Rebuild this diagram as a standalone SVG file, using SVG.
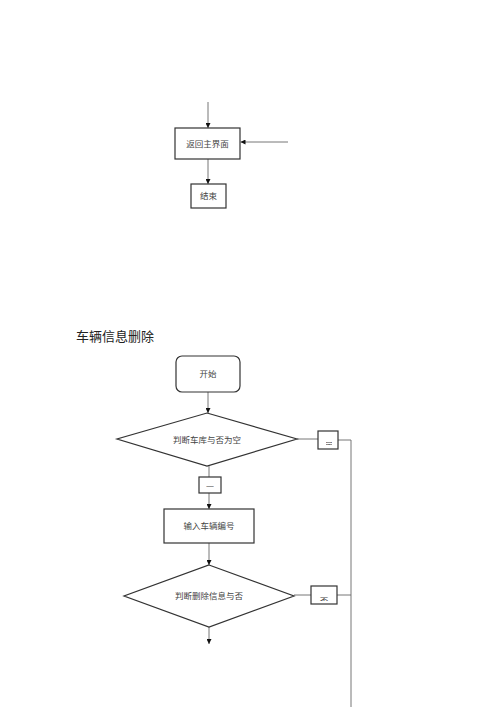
<svg xmlns="http://www.w3.org/2000/svg" width="500" height="707" viewBox="0 0 500 707">
<style>
.box{fill:#fff;stroke:#333;stroke-width:1.2}
.ln{fill:none;stroke:#666;stroke-width:0.9}
.t{font-family:"Liberation Sans","Noto Sans CJK SC",sans-serif;font-size:8.5px;fill:#444;text-anchor:middle}
.title{font-family:"Liberation Sans","Noto Sans CJK SC",sans-serif;font-size:13px;fill:#222}
</style>
<defs>
<marker id="ar" viewBox="0 0 8 8" refX="8" refY="4" markerWidth="5" markerHeight="5" orient="auto" markerUnits="userSpaceOnUse">
<path d="M0,0 L8,4 L0,8 z" fill="#111"/>
</marker>
<clipPath id="c1"><rect x="326" y="442" width="6" height="3"/></clipPath>
<clipPath id="c2"><rect x="206" y="484" width="8" height="3"/></clipPath>
<clipPath id="c3"><rect x="318" y="595" width="12" height="6"/></clipPath>
</defs>
<g id="connectors">
<line class="ln" x1="208" y1="102" x2="208" y2="128" marker-end="url(#ar)"/>
<line class="ln" x1="288" y1="142" x2="240.5" y2="142" marker-end="url(#ar)"/>
<line class="ln" x1="208" y1="159" x2="208" y2="184" marker-end="url(#ar)"/>
<line class="ln" x1="208" y1="392" x2="208" y2="413" marker-end="url(#ar)"/>
<line class="ln" x1="297" y1="439" x2="318" y2="439"/>
<polyline class="ln" points="338,440 351,440 351,707"/>
<line class="ln" x1="209" y1="466" x2="209" y2="477"/>
<line class="ln" x1="209" y1="493" x2="209" y2="509" marker-end="url(#ar)"/>
<line class="ln" x1="209" y1="543" x2="209" y2="565" marker-end="url(#ar)"/>
<line class="ln" x1="294" y1="595" x2="311" y2="595"/>
<line class="ln" x1="337" y1="595" x2="351" y2="595"/>
<line class="ln" x1="209" y1="627" x2="209" y2="644" marker-end="url(#ar)"/>
</g>
<g id="return-main">
<rect class="box" x="175" y="128" width="65" height="31"/>
<text class="t" x="207.5" y="146.5">返回主界面</text>
</g>
<g id="end">
<rect class="box" x="191" y="184" width="35" height="24"/>
<text class="t" x="208.5" y="199">结束</text>
</g>
<text id="title" class="title" x="76" y="341">车辆信息删除</text>
<g id="start">
<rect class="box" x="176" y="356" width="64" height="36" rx="6" ry="6"/>
<text class="t" x="208" y="377">开始</text>
</g>
<g id="check-empty">
<polygon class="box" points="207,413 297,439 207,466 117,439"/>
<text class="t" x="207" y="442.5">判断车库与否为空</text>
</g>
<g id="yes1">
<rect class="box" x="318" y="431" width="20" height="18"/>
<text class="t" x="329" y="447" clip-path="url(#c1)">是</text>
</g>
<g id="no1">
<rect class="box" x="199" y="477" width="22" height="16"/>
<text class="t" x="210" y="493" clip-path="url(#c2)">否</text>
</g>
<g id="input-id">
<rect class="box" x="164" y="509" width="90" height="34"/>
<text class="t" x="209" y="529">输入车辆编号</text>
</g>
<g id="check-delete">
<polygon class="box" points="209,565 294,596 209,627 124,596"/>
<text class="t" x="209" y="599">判断删除信息与否</text>
</g>
<g id="no2">
<rect class="box" x="311" y="586" width="26" height="18"/>
<text class="t" x="324" y="604" clip-path="url(#c3)">否</text>
</g>
</svg>
